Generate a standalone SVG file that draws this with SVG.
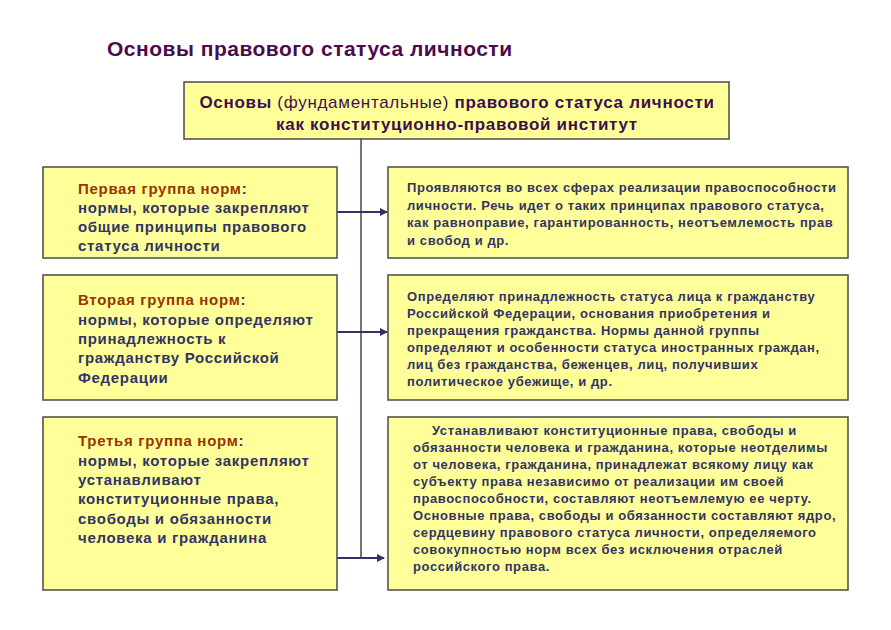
<svg xmlns="http://www.w3.org/2000/svg" width="891" height="630" viewBox="0 0 891 630">
<defs>
<style>
.box{fill:#FFFF99;stroke:#4a4a4a;stroke-width:1.5}
.t{font-family:"Liberation Sans",Arial,sans-serif;font-weight:bold;fill:#333366}
.l{font-size:15px;letter-spacing:0.7px}
.r{font-size:13px;letter-spacing:0.6px}
.red{fill:#993300}
.hd{font-family:"Liberation Sans",Arial,sans-serif;font-weight:bold;fill:#3D0F4F;font-size:17px;letter-spacing:0.7px}
.con{stroke:#333366;stroke-width:2;fill:none}
.vl{stroke:#444455;stroke-width:1.5;fill:none}
</style>
<marker id="arr" markerWidth="8" markerHeight="8" refX="7" refY="4" orient="auto" markerUnits="userSpaceOnUse">
<path d="M0,0 L8,4 L0,8 z" fill="#333366"/>
</marker>
</defs>
<rect width="891" height="630" fill="#ffffff"/>
<text x="107" y="56" font-family="Liberation Sans,Arial,sans-serif" font-size="21" font-weight="bold" letter-spacing="0.5" fill="#4C0B4C">Основы правового статуса личности</text>

<g id="connectors">
<line class="vl" x1="361" y1="139" x2="361" y2="558"/>
<line class="con" x1="337" y1="212" x2="387" y2="212" marker-end="url(#arr)"/>
<line class="con" x1="337" y1="332" x2="387" y2="332" marker-end="url(#arr)"/>
<line class="con" x1="337" y1="558" x2="384" y2="558" marker-end="url(#arr)"/>
</g>

<g id="top">
<rect class="box" x="184" y="82" width="545" height="57"/>
<text class="hd" x="457" y="108" text-anchor="middle">Основы <tspan font-weight="normal">(фундаментальные)</tspan> правового статуса личности</text>
<text class="hd" x="457" y="130" text-anchor="middle">как конституционно-правовой институт</text>
</g>

<g id="left1">
<rect class="box" x="43" y="167" width="294" height="91"/>
<text class="t l" x="78" y="194"><tspan class="red">Первая группа норм</tspan>:</text>
<text class="t l" x="78" y="213">нормы, которые закрепляют</text>
<text class="t l" x="78" y="232">общие принципы правового</text>
<text class="t l" x="78" y="251">статуса личности</text>
</g>

<g id="right1">
<rect class="box" x="388" y="167" width="460" height="91"/>
<text class="t r" x="407" y="192">Проявляются во всех сферах реализации правоспособности</text>
<text class="t r" x="407" y="210">личности. Речь идет о таких принципах правового статуса,</text>
<text class="t r" x="407" y="227">как равноправие, гарантированность, неотъемлемость прав</text>
<text class="t r" x="407" y="245">и свобод и др.</text>
</g>

<g id="left2">
<rect class="box" x="43" y="275" width="294" height="125"/>
<text class="t l" x="78" y="305"><tspan class="red">Вторая группа норм</tspan>:</text>
<text class="t l" x="78" y="325">нормы, которые определяют</text>
<text class="t l" x="78" y="344">принадлежность к</text>
<text class="t l" x="78" y="363">гражданству Российской</text>
<text class="t l" x="78" y="383">Федерации</text>
</g>

<g id="right2">
<rect class="box" x="388" y="275" width="460" height="125"/>
<text class="t r" x="407" y="301">Определяют принадлежность статуса лица к гражданству</text>
<text class="t r" x="407" y="318">Российской Федерации, основания приобретения и</text>
<text class="t r" x="407" y="335">прекращения гражданства. Нормы данной группы</text>
<text class="t r" x="407" y="352">определяют и особенности статуса иностранных граждан,</text>
<text class="t r" x="407" y="369">лиц без гражданства, беженцев, лиц, получивших</text>
<text class="t r" x="407" y="386">политическое убежище, и др.</text>
</g>

<g id="left3">
<rect class="box" x="43" y="417" width="294" height="173"/>
<text class="t l" x="78" y="446"><tspan class="red">Третья группа норм</tspan>:</text>
<text class="t l" x="78" y="466">нормы, которые закрепляют</text>
<text class="t l" x="78" y="485">устанавливают</text>
<text class="t l" x="78" y="504">конституционные права,</text>
<text class="t l" x="78" y="524">свободы и обязанности</text>
<text class="t l" x="78" y="543">человека и гражданина</text>
</g>

<g id="right3">
<rect class="box" x="388" y="417" width="460" height="173"/>
<text class="t r" x="432" y="435">Устанавливают конституционные права, свободы и</text>
<text class="t r" x="413" y="452">обязанности человека и гражданина, которые неотделимы</text>
<text class="t r" x="413" y="469">от человека, гражданина, принадлежат всякому лицу как</text>
<text class="t r" x="413" y="486">субъекту права независимо от реализации им своей</text>
<text class="t r" x="413" y="503">правоспособности, составляют неотъемлемую ее черту.</text>
<text class="t r" x="413" y="520">Основные права, свободы и обязанности составляют ядро,</text>
<text class="t r" x="413" y="537">сердцевину правового статуса личности, определяемого</text>
<text class="t r" x="413" y="554">совокупностью норм всех без исключения отраслей</text>
<text class="t r" x="413" y="571">российского права.</text>
</g>
</svg>
